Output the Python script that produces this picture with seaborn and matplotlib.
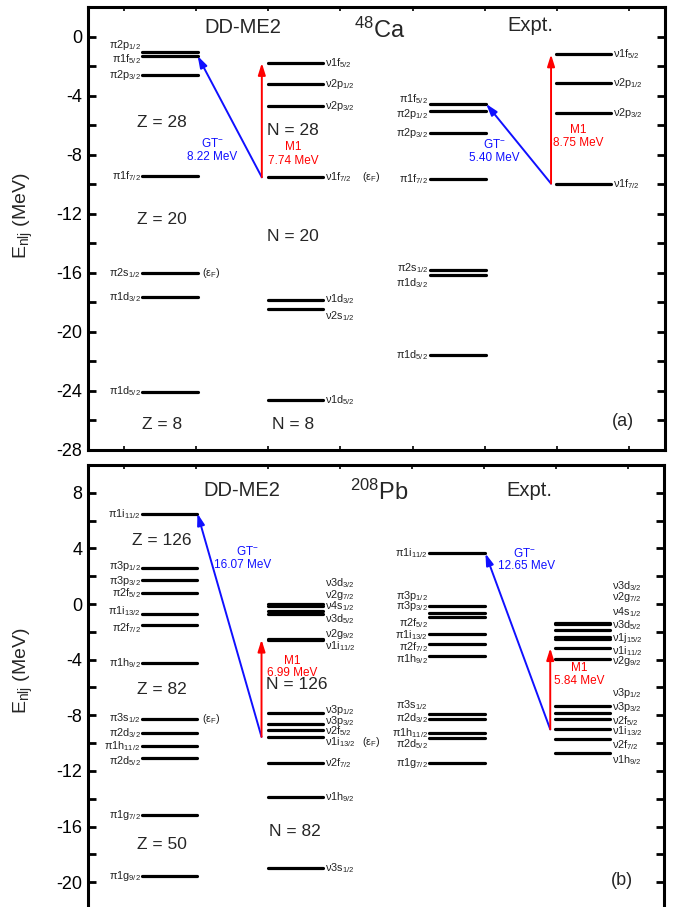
import re
import numpy as np
import pandas as pd
import matplotlib
matplotlib.use('Agg')
import matplotlib.pyplot as plt
import seaborn as sns

# ------------------------------------------------------------------ data
# 48Ca, DD-ME2
ca_dd_p_orb = ['2p1/2', '1f5/2', '2p3/2', '1f7/2', '2s1/2', '1d3/2', '1d5/2']
ca_dd_p_E = [-1.06, -1.31, -2.62, -9.44, -16.00, -17.63, -24.04]
ca_dd_n_orb = ['1f5/2', '2p1/2', '2p3/2', '1f7/2', '1d3/2', '2s1/2', '1d5/2']
ca_dd_n_E = [-1.79, -3.23, -4.70, -9.53, -17.87, -18.44, -24.63]
# 48Ca, experiment
ca_ex_p_orb = ['1f5/2', '2p1/2', '2p3/2', '1f7/2', '2s1/2', '1d3/2', '1d5/2']
ca_ex_p_E = [-4.56, -5.04, -6.55, -9.65, -15.82, -16.18, -21.60]
ca_ex_n_orb = ['1f5/2', '2p1/2', '2p3/2', '1f7/2']
ca_ex_n_E = [-1.21, -3.12, -5.15, -9.96]

# 208Pb, DD-ME2
pb_dd_p_orb = ['1i11/2', '3p1/2', '3p3/2', '2f5/2', '1i13/2', '2f7/2', '1h9/2',
               '3s1/2', '2d3/2', '1h11/2', '2d5/2', '1g7/2', '1g9/2']
pb_dd_p_E = [6.50, 2.56, 1.75, 0.76, -0.75, -1.47, -4.25,
             -8.23, -9.28, -10.19, -11.06, -15.14, -19.53]
pb_dd_n_orb = ['3d3/2', '2g7/2', '4s1/2', '3d5/2', '2g9/2', '1i11/2',
               '3p1/2', '3p3/2', '2f5/2', '1i13/2', '2f7/2', '1h9/2', '3s1/2']
pb_dd_n_E = [-0.02, -0.15, -0.48, -0.75, -2.50, -2.62,
             -7.80, -8.63, -9.04, -9.55, -11.42, -13.91, -19.00]
# 208Pb, experiment
pb_ex_p_orb = ['1i11/2', '3p1/2', '3p3/2', '2f5/2', '1i13/2', '2f7/2', '1h9/2',
               '3s1/2', '2d3/2', '1h11/2', '2d5/2', '1g7/2']
pb_ex_p_E = [3.64, -0.12, -0.65, -0.94, -2.16, -2.86, -3.77,
             -7.94, -8.30, -9.28, -9.64, -11.42]
pb_ex_n_orb = ['3d3/2', '2g7/2', '4s1/2', '3d5/2', '1j15/2', '1i11/2', '2g9/2',
               '3p1/2', '3p3/2', '2f5/2', '1i13/2', '2f7/2', '1h9/2']
pb_ex_n_E = [-1.37, -1.44, -1.88, -2.37, -2.51, -3.16, -3.92,
             -7.31, -7.86, -8.24, -9.01, -9.68, -10.74]

# transitions (MeV)
ca_dd_gt, ca_dd_m1 = 8.22, 7.74
ca_ex_gt, ca_ex_m1 = 5.40, 8.75
pb_dd_gt, pb_dd_m1 = 16.07, 6.99
pb_ex_gt, pb_ex_m1 = 12.65, 5.84

# ------------------------------------------------------------------ layout (label shifts, MeV)
ca_dd_p_shift = [0.50, -0.20, 0, 0, 0, 0, 0]
ca_dd_n_shift = [0, 0, 0, 0, 0.10, -0.46, 0]
ca_ex_p_shift = [0.32, -0.22, 0, 0, 0.16, -0.54, 0]
ca_ex_n_shift = [0, 0, 0, 0]
pb_dd_p_shift = [0, 0.20, -0.12, 0, 0.22, -0.26, 0, 0, 0, 0, -0.20, 0, 0]
pb_dd_n_shift = [1.55, 0.82, 0.31, -0.33, 0.34, -0.43, 0.15, 0.23, -0.13, -0.35, 0, 0, 0]
pb_ex_p_shift = [0, 0.67, 0.48, -0.43, -0.05, -0.26, -0.19, 0.70, 0.10, 0, -0.41, 0]
pb_ex_n_shift = [2.69, 1.92, 1.28, 0.83, 0.06, -0.20, -0.21, 0.95, 0.45, -0.16, -0.16, -0.44, -0.46]

COLS = {'ddp': (0.75, 1.52), 'ddn': (2.50, 3.26), 'exp': (4.74, 5.52), 'exn': (6.49, 7.25)}
ARROW_X = {'dd': 2.41, 'ex': 6.42}

sns.set_style('ticks')
plt.rcParams['font.family'] = ['Liberation Sans', 'DejaVu Sans']
plt.rcParams.update({
    'mathtext.fontset': 'custom',
    'mathtext.rm': 'Liberation Sans',
    'mathtext.it': 'Liberation Sans:italic',
    'mathtext.bf': 'Liberation Sans:bold',
    'mathtext.sf': 'Liberation Sans',
    'mathtext.default': 'regular',
    'axes.unicode_minus': False,
    'axes.edgecolor': 'black',
    'xtick.color': 'black',
    'ytick.color': 'black',
})

BLUE = '#1010ff'
RED = '#ff0000'
LAB_FS = 7.8
LAB_COLOR = '#222222'


def orb_label(sym, orb):
    m = re.match(r'(\d+[a-z])(\d+/\d+)', orb)
    return f'{sym}{m.group(1)}$_{{{m.group(2)}}}$'


def draw_panel(ax, sets):
    rows = []
    for key, col, sym, orbs, energies, shifts in sets:
        x0, x1 = COLS[col]
        for o, e in zip(orbs, energies):
            rows.append({'x': x0, 'E': e, 'seg': f'{key}-{o}'})
            rows.append({'x': x1, 'E': e, 'seg': f'{key}-{o}'})
    df = pd.DataFrame(rows)
    sns.lineplot(data=df, x='x', y='E', units='seg', estimator=None, sort=False,
                 color='black', lw=2.3, ax=ax, legend=False)
    for key, col, sym, orbs, energies, shifts in sets:
        x0, x1 = COLS[col]
        for o, e, s in zip(orbs, energies, shifts):
            if sym == 'π':
                ax.text(x0 - 0.02, e + s, orb_label(sym, o), ha='right', va='center',
                        fontsize=LAB_FS, color=LAB_COLOR)
            else:
                ax.text(x1 + 0.03, e + s, orb_label(sym, o), ha='left', va='center',
                        fontsize=LAB_FS, color=LAB_COLOR)


def arrow(ax, x0, y0, x1, y1, color):
    ax.annotate('', xy=(x1, y1), xytext=(x0, y0),
                arrowprops=dict(arrowstyle='-|>,head_length=0.7,head_width=0.22',
                                color=color, lw=1.4, shrinkA=0, shrinkB=0,
                                mutation_scale=10))


def style_axes(ax, ylim, major, minor, bottom_ticks=True):
    ax.set_xlim(0, 8)
    ax.set_ylim(*ylim)
    ax.set_xticks(np.arange(0.5, 8, 1))
    ax.set_yticks(major)
    ax.set_yticks(minor, minor=True)
    ax.set_xlabel('')
    for sp in ax.spines.values():
        sp.set_visible(True)
        sp.set_linewidth(2.2)
        sp.set_color('black')
    ax.tick_params(axis='y', which='both', direction='in', left=True, right=True,
                   length=6, width=2, labelsize=13, pad=4)
    ax.tick_params(axis='x', which='both', direction='in', top=True, bottom=bottom_ticks,
                   length=3, width=1.2, labelbottom=False)
    ax.set_ylabel(r'E$_{\rm nlj}$ (MeV)', fontsize=14)


fig = plt.figure(figsize=(6.8, 9.07), dpi=100)
axA = fig.add_axes([88 / 680, 1 - 450 / 907, 577 / 680, 443 / 907])
axB = fig.add_axes([88 / 680, 1 - 910 / 907, 576 / 680, 445 / 907])

# ---------------------------------------------------------------- panel (a)
draw_panel(axA, [
    ('cdp', 'ddp', 'π', ca_dd_p_orb, ca_dd_p_E, ca_dd_p_shift),
    ('cdn', 'ddn', 'ν', ca_dd_n_orb, ca_dd_n_E, ca_dd_n_shift),
    ('cep', 'exp', 'π', ca_ex_p_orb, ca_ex_p_E, ca_ex_p_shift),
    ('cen', 'exn', 'ν', ca_ex_n_orb, ca_ex_n_E, ca_ex_n_shift),
])
style_axes(axA, (-28, 2), np.arange(-28, 1, 4), np.arange(-28, 2.1, 2))
axA.yaxis.set_label_coords(-0.092, 0.53)

ddn = dict(zip(ca_dd_n_orb, ca_dd_n_E))
ddp = dict(zip(ca_dd_p_orb, ca_dd_p_E))
exn = dict(zip(ca_ex_n_orb, ca_ex_n_E))
exp_ = dict(zip(ca_ex_p_orb, ca_ex_p_E))
arrow(axA, ARROW_X['dd'], ddn['1f7/2'], COLS['ddp'][1], ddn['1f7/2'] + ca_dd_gt, BLUE)
arrow(axA, ARROW_X['dd'], ddn['1f7/2'], ARROW_X['dd'], ddn['1f7/2'] + ca_dd_m1, RED)
arrow(axA, ARROW_X['ex'], exn['1f7/2'], COLS['exp'][1], exn['1f7/2'] + ca_ex_gt, BLUE)
arrow(axA, ARROW_X['ex'], exn['1f7/2'], ARROW_X['ex'], exn['1f7/2'] + ca_ex_m1, RED)

axA.text(1.73, -7.27, 'GT$^{-}$', color=BLUE, ha='center', va='center', fontsize=8.5)
axA.text(1.72, -8.16, f'{ca_dd_gt:.2f} MeV', color=BLUE, ha='center', va='center', fontsize=8.5)
axA.text(2.84, -7.48, 'M1', color=RED, ha='center', va='center', fontsize=8.5)
axA.text(2.84, -8.41, f'{ca_dd_m1:.2f} MeV', color=RED, ha='center', va='center', fontsize=8.5)
axA.text(5.64, -7.34, 'GT$^{-}$', color=BLUE, ha='center', va='center', fontsize=8.5)
axA.text(5.64, -8.22, f'{ca_ex_gt:.2f} MeV', color=BLUE, ha='center', va='center', fontsize=8.5)
axA.text(6.80, -6.33, 'M1', color=RED, ha='center', va='center', fontsize=8.5)
axA.text(6.80, -7.20, f'{ca_ex_m1:.2f} MeV', color=RED, ha='center', va='center', fontsize=8.5)

axA.text(1.58, ddp['2s1/2'], '(ε$_{\\rm F}$)', ha='left', va='center', fontsize=7.8, color=LAB_COLOR)
axA.text(3.80, ddn['1f7/2'], '(ε$_{\\rm F}$)', ha='left', va='center', fontsize=7.8, color=LAB_COLOR)

axA.text(2.14, 0.59, 'DD-ME2', ha='center', va='center', fontsize=14.5)
axA.text(4.05, 0.45, '$^{48}$Ca', ha='center', va='center', fontsize=17)
axA.text(6.13, 0.73, 'Expt.', ha='center', va='center', fontsize=14.5)
for txt, x, y in [('Z = 28', 1.03, -5.85), ('Z = 20', 1.03, -12.4), ('Z = 8', 1.03, -26.3),
                  ('N = 28', 2.84, -6.33), ('N = 20', 2.84, -13.56), ('N = 8', 2.84, -26.3)]:
    axA.text(x, y, txt, ha='center', va='center', fontsize=12.5)
axA.text(7.41, -26.1, '(a)', ha='center', va='center', fontsize=13)

# ---------------------------------------------------------------- panel (b)
draw_panel(axB, [
    ('pdp', 'ddp', 'π', pb_dd_p_orb, pb_dd_p_E, pb_dd_p_shift),
    ('pdn', 'ddn', 'ν', pb_dd_n_orb, pb_dd_n_E, pb_dd_n_shift),
    ('pep', 'exp', 'π', pb_ex_p_orb, pb_ex_p_E, pb_ex_p_shift),
    ('pen', 'exn', 'ν', pb_ex_n_orb, pb_ex_n_E, pb_ex_n_shift),
])
style_axes(axB, (-22, 10), np.arange(-20, 9, 4), np.arange(-22, 10.1, 2), bottom_ticks=False)
axB.yaxis.set_label_coords(-0.092, 0.537)

ddn = dict(zip(pb_dd_n_orb, pb_dd_n_E))
ddp = dict(zip(pb_dd_p_orb, pb_dd_p_E))
exn = dict(zip(pb_ex_n_orb, pb_ex_n_E))
exp_ = dict(zip(pb_ex_p_orb, pb_ex_p_E))
arrow(axB, ARROW_X['dd'], ddn['1i13/2'], COLS['ddp'][1], ddn['1i13/2'] + pb_dd_gt, BLUE)
arrow(axB, ARROW_X['dd'], ddn['1i13/2'], ARROW_X['dd'], ddn['1i13/2'] + pb_dd_m1, RED)
arrow(axB, ARROW_X['ex'], exn['1i13/2'], COLS['exp'][1], exn['1i13/2'] + pb_ex_gt, BLUE)
arrow(axB, ARROW_X['ex'], exn['1i13/2'], ARROW_X['ex'], exn['1i13/2'] + pb_ex_m1, RED)

axB.text(2.21, 3.78, 'GT$^{-}$', color=BLUE, ha='center', va='center', fontsize=8.5)
axB.text(2.15, 2.83, f'{pb_dd_gt:.2f} MeV', color=BLUE, ha='center', va='center', fontsize=8.5)
axB.text(2.84, -4.13, 'M1', color=RED, ha='center', va='center', fontsize=8.5)
axB.text(2.84, -4.96, f'{pb_dd_m1:.2f} MeV', color=RED, ha='center', va='center', fontsize=8.5)
axB.text(6.06, 3.67, 'GT$^{-}$', color=BLUE, ha='center', va='center', fontsize=8.5)
axB.text(6.09, 2.76, f'{pb_ex_gt:.2f} MeV', color=BLUE, ha='center', va='center', fontsize=8.5)
axB.text(6.82, -4.60, 'M1', color=RED, ha='center', va='center', fontsize=8.5)
axB.text(6.82, -5.50, f'{pb_ex_m1:.2f} MeV', color=RED, ha='center', va='center', fontsize=8.5)

axB.text(1.58, ddp['3s1/2'], '(ε$_{\\rm F}$)', ha='left', va='center', fontsize=7.8, color=LAB_COLOR)
axB.text(3.80, ddn['1i13/2'] - 0.35, '(ε$_{\\rm F}$)', ha='left', va='center', fontsize=7.8, color=LAB_COLOR)

axB.text(2.14, 8.17, 'DD-ME2', ha='center', va='center', fontsize=14.5)
axB.text(4.05, 8.04, '$^{208}$Pb', ha='center', va='center', fontsize=17)
axB.text(6.13, 8.17, 'Expt.', ha='center', va='center', fontsize=14.5)
for txt, x, y in [('Z = 126', 1.03, 4.58), ('Z = 82', 1.03, -6.17), ('Z = 50', 1.03, -17.32),
                  ('N = 126', 2.90, -5.81), ('N = 82', 2.88, -16.36)]:
    axB.text(x, y, txt, ha='center', va='center', fontsize=12.5)
axB.text(7.42, -19.9, '(b)', ha='center', va='center', fontsize=13)

fig.savefig('out.png', dpi=100)
